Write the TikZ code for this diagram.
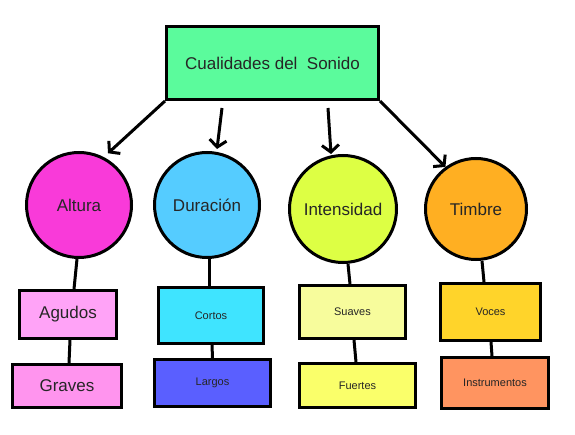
\documentclass[tikz,border=0pt]{standalone}
\usepackage{fontspec}
\setmainfont{Liberation Sans}
\usetikzlibrary{arrows.meta}
\definecolor{cMint}{HTML}{5BFB9C}
\definecolor{cMag}{HTML}{F93AD9}
\definecolor{cSky}{HTML}{55CCFF}
\definecolor{cLime}{HTML}{DDFF44}
\definecolor{cOrange}{HTML}{FFAF22}
\definecolor{cPinkA}{HTML}{FFA3F7}
\definecolor{cPinkB}{HTML}{FF94EE}
\definecolor{cCyan}{HTML}{3FE4FF}
\definecolor{cViolet}{HTML}{5A5FFF}
\definecolor{cPaleY}{HTML}{F7FC9C}
\definecolor{cYel}{HTML}{FAFF6A}
\definecolor{cGold}{HTML}{FFD42A}
\definecolor{cSalmon}{HTML}{FF9460}
\begin{document}
\begin{tikzpicture}[x=1pt,y=-1pt,
  boxbase/.style={draw=black,line width=3pt,rectangle,inner sep=0pt,text=black!85},
  bigtxt/.style={font=\fontsize{17}{20}\selectfont},
  smalltxt/.style={font=\fontsize{11}{13}\selectfont},
  circ/.style={draw=black,line width=3pt,circle,inner sep=0pt,text=black!85,font=\fontsize{17}{20}\selectfont},
  link/.style={line width=3pt,draw=black},
  arr/.style={line width=3pt,draw=black,-{Straight Barb[length=7pt,width=17pt]}}]
\useasboundingbox[fill=white] (0,0) rectangle (575,435);

\node[boxbase,bigtxt,fill=cMint,minimum width=212pt,minimum height=73pt] (cual) at (272.5,63) {Cualidades del\ \ Sonido};

\node[circ,fill=cMag,minimum size=105pt] (altura) at (79,205) {Altura};
\node[circ,fill=cSky,minimum size=105pt] (duracion) at (207,205) {Duración};
\node[circ,fill=cLime,minimum size=107pt] (intens) at (343,209) {Intensidad};
\node[circ,fill=cOrange,minimum size=101pt] (timbre) at (476,209) {Timbre};

\node[boxbase,bigtxt,fill=cPinkA,minimum width=97pt,minimum height=48pt] (agudos) at (68,314.5) {Agudos};
\node[boxbase,bigtxt,fill=cPinkB,minimum width=109pt,minimum height=43pt] (graves) at (67,386) {Graves};
\node[boxbase,smalltxt,fill=cCyan,minimum width=105pt,minimum height=56pt] (cortos) at (211,315.5) {Cortos};
\node[boxbase,smalltxt,fill=cViolet,minimum width=116pt,minimum height=47pt] (largos) at (212.5,383) {Largos};
\node[boxbase,smalltxt,fill=cPaleY,minimum width=106pt,minimum height=53pt] (suaves) at (352.5,312) {Suaves};
\node[boxbase,smalltxt,fill=cYel,minimum width=116pt,minimum height=44pt] (fuertes) at (357.5,385.5) {Fuertes};
\node[boxbase,smalltxt,fill=cGold,minimum width=100pt,minimum height=57pt] (voces) at (490.5,312) {Voces};
\node[boxbase,smalltxt,fill=cSalmon,minimum width=107pt,minimum height=51pt] (instr) at (495,383) {Instrumentos};

% arrows from the title
\draw[arr] (cual.south west) -- ([shift={(2pt,5pt)}]altura.60);
\draw[arr] ([shift={(-50.5pt,-7pt)}]cual.south) -- ([shift={(10pt,2pt)}]duracion.north);
\draw[arr] ([shift={(55.5pt,-7pt)}]cual.south) -- ([shift={(-12pt,0pt)}]intens.north);
\draw[arr] (cual.south east) -- (timbre.126);

% links
\draw[link] ([xshift=-2pt]altura.south) -- ([xshift=6pt]agudos.north);
\draw[link] ([xshift=2pt]agudos.south) -- ([xshift=2pt]graves.north);
\draw[link] ([xshift=2pt]duracion.south) -- ([xshift=-2pt]cortos.north);
\draw[link] ([xshift=1pt]cortos.south) -- (largos.north);
\draw[link] ([xshift=5pt]intens.south) -- ([xshift=-2.5pt]suaves.north);
\draw[link] ([xshift=1.5pt]suaves.south) -- ([xshift=-1.5pt]fuertes.north);
\draw[link] ([xshift=6pt]timbre.south) -- ([xshift=-6.5pt]voces.north);
\draw[link] ([xshift=0.5pt]voces.south) -- ([xshift=-3pt]instr.north);
\end{tikzpicture}
\end{document}
